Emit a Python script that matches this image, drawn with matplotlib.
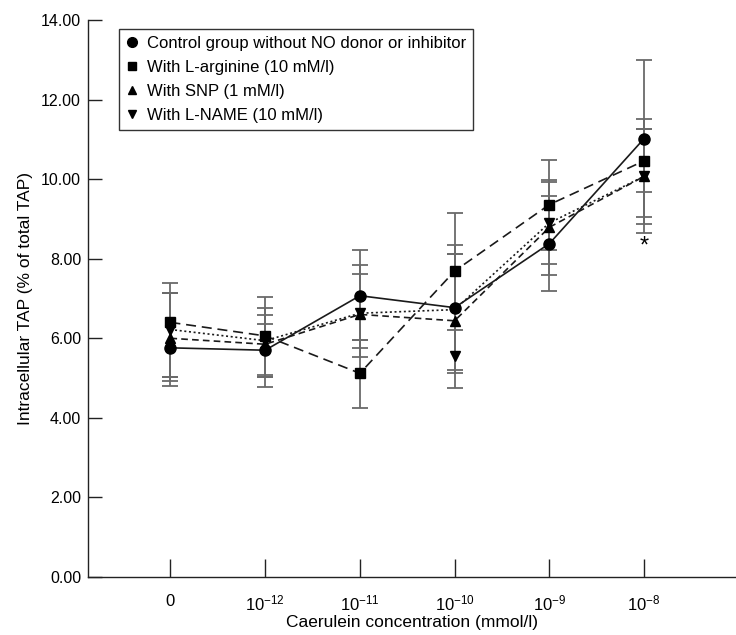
import matplotlib
matplotlib.use("Agg")
import matplotlib.pyplot as plt
from matplotlib.lines import Line2D

plt.rcParams['font.family'] = ['Liberation Sans', 'DejaVu Sans']
plt.rcParams['mathtext.fontset'] = 'custom'
plt.rcParams['mathtext.rm'] = 'Liberation Sans'
plt.rcParams['mathtext.it'] = 'Liberation Sans'

# Data
conc_labels = ['0', r'$10^{-12}$', r'$10^{-11}$', r'$10^{-10}$', r'$10^{-9}$', r'$10^{-8}$']
x = [0, 1, 2, 3, 4, 5]

control = [5.76, 5.70, 7.07, 6.77, 8.38, 11.02]
control_lo = [0.95, 0.92, 1.12, 1.57, 1.19, 1.98]
control_hi = [1.37, 0.88, 1.16, 1.57, 1.19, 1.98]

larg = [6.40, 6.06, 5.12, 7.69, 9.36, 10.46]
larg_lo = [1.37, 0.99, 0.87, 1.47, 1.13, 0.79]
larg_hi = [0.98, 0.97, 0.83, 1.47, 1.13, 0.79]

snp = [6.00, 5.85, 6.60, 6.44, 8.79, 10.07]
snp_lo = [1.08, 0.83, 1.06, 1.68, 1.20, 1.43]
snp_hi = [1.13, 0.92, 1.24, 1.68, 1.18, 1.43]

# in the original the L-NAME line passes 6.7 at 10^-10 while its symbol sits at 5.55
lname_line = [6.22, 5.94, 6.63, 6.72, 8.90, 10.07]
lname = [6.22, 5.94, 6.63, 5.55, 8.90, 10.07]
lname_lo = [1.19, 0.92, 0.88, 0.42, 1.03, 1.20]
lname_hi = [0.91, 0.43, 0.98, 2.57, 1.03, 1.18]

legend_labels = ['Control group without NO donor or inhibitor',
                 'With L-arginine (10 mM/l)',
                 'With SNP (1 mM/l)',
                 'With L-NAME (10 mM/l)']

fig = plt.figure(figsize=(7.36, 6.35), dpi=100)
ax = fig.add_axes([88 / 736, 58 / 635, 648 / 736, 557 / 635])

series = [
    (control, control, control_lo, control_hi, 'o', '-', 8),
    (larg, larg, larg_lo, larg_hi, 's', (0, (6, 3.5)), 7),
    (snp, snp, snp_lo, snp_hi, '^', (0, (4, 2.5)), 7.5),
    (lname_line, lname, lname_lo, lname_hi, 'v', (0, (1.2, 1.6)), 7.5),
]

# error bars first (grey), then lines and markers on top
for line, vals, lo, hi, mk, ls, ms in series:
    ax.errorbar(x, vals, yerr=[lo, hi], fmt='none', ecolor='#6a6a6a',
                elinewidth=1.3, capsize=6, capthick=1.3, zorder=2)
for line, vals, lo, hi, mk, ls, ms in series:
    ax.plot(x, line, color='#1a1a1a', linestyle=ls, linewidth=1.2, zorder=3)
    ax.plot(x, vals, linestyle='none', marker=mk, markersize=ms,
            color='black', zorder=4)

ax.text(5, 8.3, '*', ha='center', va='center', fontsize=17)

ax.set_xlim(-0.87, 5.97)
ax.set_ylim(0, 14)
ax.set_yticks([0, 2, 4, 6, 8, 10, 12, 14])
ax.set_yticklabels([f'{v:.2f}' for v in [0, 2, 4, 6, 8, 10, 12, 14]])
ax.set_xticks(x)
ax.set_xticklabels(conc_labels)

for s in ['top', 'right']:
    ax.spines[s].set_visible(False)
for s in ['left', 'bottom']:
    ax.spines[s].set_linewidth(1.0)
    ax.spines[s].set_color('#222222')

ax.tick_params(axis='y', direction='in', length=10, width=1.0, pad=5,
               labelsize=11.5, color='#222222')
ax.tick_params(axis='x', direction='in', length=13, width=1.0, pad=12,
               labelsize=12, color='#222222')

ax.set_ylabel('Intracellular TAP (% of total TAP)', fontsize=12.5, labelpad=6)
ax.set_xlabel('Caerulein concentration (mmol/l)', fontsize=12.5, labelpad=1)

handles = [Line2D([], [], linestyle='none', marker=m, color='black', markersize=s)
           for m, s in [('o', 7), ('s', 5.5), ('^', 6), ('v', 6)]]
leg = ax.legend(handles, legend_labels, loc='upper left',
                bbox_to_anchor=(0.048, 0.984), fontsize=12, frameon=True,
                fancybox=False, edgecolor='#333333', framealpha=1,
                handlelength=0.8, handletextpad=0.5, borderpad=0.4,
                labelspacing=0.55, borderaxespad=0)
leg.get_frame().set_linewidth(1.0)

fig.savefig('out.png', dpi=100)
